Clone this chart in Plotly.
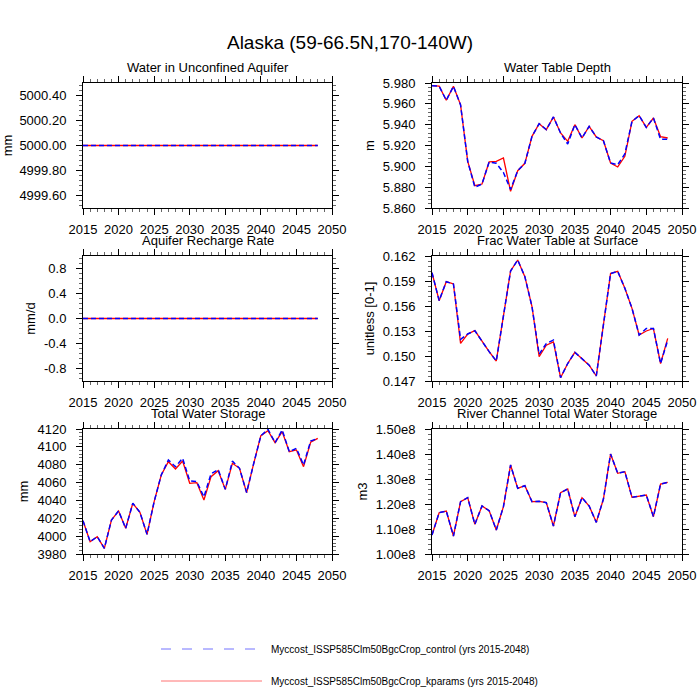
import plotly.graph_objects as go
from plotly.subplots import make_subplots

years = list(range(2015, 2049))

# Water in Unconfined Aquifer (mm) - flat for both runs
wa_control = [5000.0] * len(years)
wa_kparams = [5000.0] * len(years)

# Water Table Depth (m)
zwt_control = [5.9774, 5.977, 5.9634, 5.9768, 5.959, 5.9048, 5.880, 5.883, 5.9042, 5.903,
               5.894, 5.8778, 5.8958, 5.9029, 5.9288, 5.941, 5.9352, 5.9474, 5.932, 5.9214,
               5.940, 5.9272, 5.9384, 5.9282, 5.9246, 5.9032, 5.9016, 5.912, 5.9432, 5.9486,
               5.9374, 5.9464, 5.926, 5.926]
zwt_kparams = [5.9774, 5.977, 5.9634, 5.9768, 5.959, 5.9048, 5.8814, 5.883, 5.9042, 5.9048,
               5.908, 5.876, 5.8958, 5.9029, 5.9288, 5.941, 5.9352, 5.9474, 5.932, 5.924,
               5.940, 5.9272, 5.9384, 5.9282, 5.9246, 5.9032, 5.8994, 5.9096, 5.9432, 5.9486,
               5.9374, 5.9464, 5.9285, 5.9272]

# Aquifer Recharge Rate (mm/d)
qcharge_control = [0.0] * len(years)
qcharge_kparams = [0.0] * len(years)

# Frac Water Table at Surface (unitless)
frac_control = [0.1600, 0.15664, 0.15892, 0.15864, 0.1520, 0.15264, 0.15304, 0.15172, 0.15052, 0.1494,
                0.15472, 0.1602, 0.16152, 0.15952, 0.15592, 0.1502, 0.1515, 0.1519, 0.1474, 0.1491,
                0.15044, 0.1497, 0.1489, 0.1476, 0.1537, 0.1599, 0.16016, 0.15812, 0.15572, 0.15252,
                0.1533, 0.1533, 0.1491, 0.1519]
frac_kparams = [0.1600, 0.15664, 0.15892, 0.15864, 0.15152, 0.15264, 0.15304, 0.15172, 0.15052, 0.1494,
                0.15472, 0.1602, 0.16152, 0.15952, 0.15592, 0.14992, 0.1513, 0.1517, 0.1474, 0.1491,
                0.15044, 0.1497, 0.1489, 0.1476, 0.1537, 0.1599, 0.16016, 0.15812, 0.15572, 0.15252,
                0.1530, 0.1533, 0.1491, 0.15212]

# Total Water Storage (mm)
tws_control = [4017.3, 3993.8, 3999.4, 3986.4, 4018.1, 4028.2, 4008.8, 4036.8, 4026.7, 4002.0,
               4038.6, 4068.5, 4085.3, 4077.8, 4087.2, 4062.0, 4061.0, 4044.0, 4070.0, 4074.5,
               4052.4, 4084.0, 4076.0, 4048.7, 4081.6, 4112.5, 4119.6, 4104.7, 4118.9, 4094.6,
               4098.4, 4079.7, 4106.6, 4109.5]
tws_kparams = [4017.3, 3993.8, 3999.4, 3986.4, 4018.1, 4028.2, 4008.8, 4036.8, 4026.7, 4002.0,
               4038.6, 4068.5, 4083.4, 4075.2, 4084.2, 4059.2, 4059.9, 4040.5, 4066.6, 4073.3,
               4052.4, 4081.6, 4076.0, 4048.7, 4081.6, 4112.5, 4118.1, 4104.7, 4117.0, 4094.6,
               4096.5, 4077.8, 4105.1, 4109.5]

# River Channel Total Water Storage (m3)
volr_control = [1.076e8, 1.1653e8, 1.172e8, 1.072e8, 1.2093e8, 1.2253e8, 1.1187e8, 1.192e8, 1.1733e8, 1.096e8,
                1.1893e8, 1.356e8, 1.2627e8, 1.2733e8, 1.2093e8, 1.2107e8, 1.2053e8, 1.112e8, 1.2453e8, 1.26e8,
                1.1493e8, 1.2253e8, 1.192e8, 1.1267e8, 1.22e8, 1.40e8, 1.3227e8, 1.3293e8, 1.2267e8, 1.232e8,
                1.236e8, 1.1493e8, 1.28e8, 1.2867e8]
volr_kparams = list(volr_control)

panel_titles = ["Water in Unconfined Aquifer", "Water Table Depth",
                "Aquifer Recharge Rate", "Frac Water Table at Surface",
                "Total Water Storage", "River Channel Total Water Storage"]
units = ["mm", "m", "mm/d", "unitless [0-1]", "mm", "m3"]
series = [(wa_control, wa_kparams), (zwt_control, zwt_kparams),
          (qcharge_control, qcharge_kparams), (frac_control, frac_kparams),
          (tws_control, tws_kparams), (volr_control, volr_kparams)]
y_ranges = [[4999.5, 5000.5], [5.86, 5.98], [-1.0, 1.0], [0.147, 0.162],
            [3980, 4120], [1.0e8, 1.5e8]]
y_ticks = [[4999.6, 4999.8, 5000.0, 5000.2, 5000.4],
           [5.86, 5.88, 5.90, 5.92, 5.94, 5.96, 5.98],
           [-0.8, -0.4, 0.0, 0.4, 0.8],
           [0.147, 0.150, 0.153, 0.156, 0.159, 0.162],
           [3980, 4000, 4020, 4040, 4060, 4080, 4100, 4120],
           [1.0e8, 1.1e8, 1.2e8, 1.3e8, 1.4e8, 1.5e8]]
y_fmt = ["{:.2f}", "{:.3f}", "{:.1f}", "{:.3f}", "{:.0f}", None]
x_ticks = [2015, 2020, 2025, 2030, 2035, 2040, 2045, 2050]

legend_names = ["Myccost_ISSP585Clm50BgcCrop_control (yrs 2015-2048)",
                "Myccost_ISSP585Clm50BgcCrop_kparams (yrs 2015-2048)"]

W = H = 700
FONT = "Liberation Sans, Arial, Helvetica, sans-serif"


def px_x(v):
    return v / W


def px_y(v):
    return 1 - v / H


x_dom = [[px_x(83), px_x(332)], [px_x(432), px_x(682)]]
y_dom = [[px_y(208), px_y(83)], [px_y(381), px_y(256)], [px_y(554), px_y(429)]]

fig = make_subplots(rows=3, cols=2)

for i, (ctl, kp) in enumerate(series):
    r, c = i // 2 + 1, i % 2 + 1
    fig.add_trace(go.Scatter(x=years, y=kp, mode="lines", line=dict(color="red", width=1.3),
                             showlegend=False), row=r, col=c)
    fig.add_trace(go.Scatter(x=years, y=ctl, mode="lines",
                             line=dict(color="blue", width=1.5, dash="5px,3px"),
                             showlegend=False), row=r, col=c)

    fig.update_xaxes(domain=x_dom[c - 1], range=[2015, 2050], tickvals=x_ticks,
                     ticks="outside", ticklen=6, tickwidth=1, tickcolor="black",
                     minor=dict(dtick=1, tick0=2015, ticks="outside", ticklen=3, tickcolor="#666"),
                     showline=True, linecolor="black", linewidth=1, mirror="allticks",
                     showgrid=False, zeroline=False, ticklabelstandoff=3, automargin=False,
                     tickfont=dict(size=13, color="black", family=FONT),
                     row=r, col=c)

    tv = y_ticks[i]
    if y_fmt[i] is None:
        tt = ["{:.2f}e8".format(v / 1e8) for v in tv]
    else:
        tt = [y_fmt[i].format(v) for v in tv]
    step = tv[1] - tv[0]
    fig.update_yaxes(domain=y_dom[r - 1], range=y_ranges[i], tickvals=tv, ticktext=tt,
                     ticks="outside", ticklen=6, tickwidth=1, tickcolor="black",
                     minor=dict(dtick=step / 5, tick0=tv[0], ticks="outside", ticklen=3,
                                tickcolor="#666"),
                     showline=True, linecolor="black", linewidth=1, mirror="allticks",
                     showgrid=False, zeroline=False, ticklabelstandoff=7, automargin=False,
                     tickfont=dict(size=13, color="black", family=FONT),
                     title=dict(text=units[i], font=dict(size=13, color="black", family=FONT),
                                standoff=5),
                     row=r, col=c)

    fig.add_annotation(text=panel_titles[i], xref="paper", yref="paper",
                       x=sum(x_dom[c - 1]) / 2, y=y_dom[r - 1][1], xanchor="center",
                       yanchor="bottom", yshift=6, showarrow=False,
                       font=dict(size=13, color="black", family=FONT))

# legend drawn by hand below the panels
leg_y = [px_y(649), px_y(681)]
leg_style = [dict(color="blue", width=1, dash="10px,11px"), dict(color="red", width=1)]
for name, yy, st in zip(legend_names, leg_y, leg_style):
    fig.add_shape(type="line", xref="paper", yref="paper", x0=px_x(161), x1=px_x(262),
                  y0=yy, y1=yy, line=st, opacity=0.55)
    fig.add_annotation(text=name, xref="paper", yref="paper", x=px_x(269), y=yy,
                       xanchor="left", yanchor="middle", showarrow=False,
                       font=dict(size=10, color="black", family=FONT))

fig.update_layout(
    width=W, height=H,
    margin=dict(l=0, r=0, t=0, b=0),
    paper_bgcolor="white", plot_bgcolor="white",
    title=dict(text="Alaska (59-66.5N,170-140W)", x=px_x(350), xanchor="center",
               y=px_y(42), yanchor="middle", automargin=False,
               font=dict(size=19, color="black", family=FONT)),
    font=dict(family=FONT, color="black"),
)

# drop the default page margin so the 700x700 figure fills the window
fig.write_html("out.html", config={"displayModeBar": False},
               post_script="document.body.style.margin='0';document.body.style.overflow='hidden';")
